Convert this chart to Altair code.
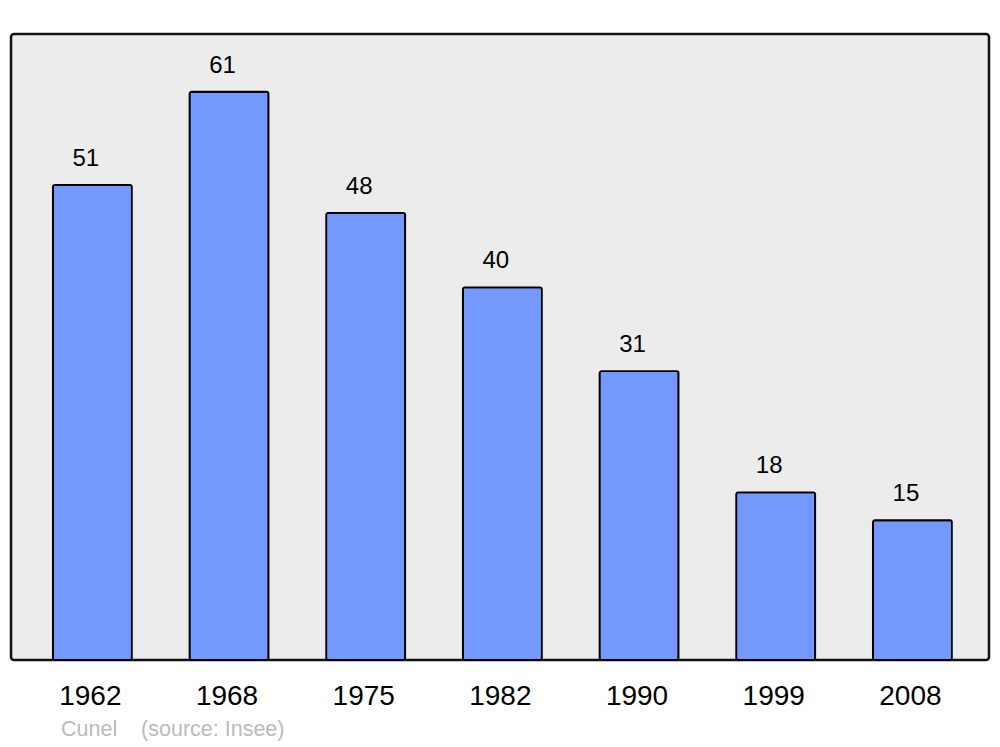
import altair as alt
import pandas as pd

years = ["1962", "1968", "1975", "1982", "1990", "1999", "2008"]
population = [51, 61, 48, 40, 31, 18, 15]

df = pd.DataFrame({"year": years, "pop": population})

x = alt.X("year:N", sort=years,
          scale=alt.Scale(paddingInner=0.422, paddingOuter=0.289, align=0.53),
          axis=alt.Axis(title=None, labelAngle=0, ticks=False, domain=False,
                        labelFontSize=28, labelColor="black", labelFont="Liberation Sans",
                        labelPadding=22, labelOffset=-2))
y = alt.Y("pop:Q", scale=alt.Scale(domain=[0, 67.2], nice=False, zero=True),
          axis=None)

bars = alt.Chart(df).mark_bar(color="#7399ff", stroke="black", strokeWidth=1.8,
                              cornerRadius=2).encode(x=x, y=y)
labels = alt.Chart(df).mark_text(fontSize=24, font="Liberation Sans", color="black",
                                 baseline="alphabetic", dx=-6.5, dy=-19).encode(
    x=x, y=y, text="pop:Q")

chart = (bars + labels).properties(
    width=978, height=626,
    padding={"left": 3, "top": 26, "right": 3, "bottom": 5},
    view=alt.ViewBackground(fill="#ececec", stroke="#111111", strokeWidth=2.5,
                            cornerRadius=3),
    title=alt.TitleParams("Cunel\u00a0\u00a0\u00a0\u00a0(source: Insee)", orient="bottom",
                          anchor="start", fontSize=21.5, font="Liberation Sans",
                          fontWeight="normal", color="#bbbbbb", dx=50, offset=9),
).configure(background="white")

chart.save("out.html", embed_options={"renderer": "svg", "actions": False})
